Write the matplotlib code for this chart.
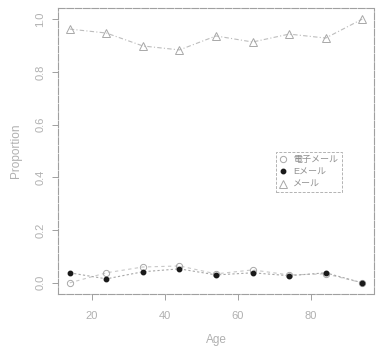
import matplotlib
matplotlib.use("Agg")
import matplotlib.pyplot as plt

plt.rcParams['font.family'] = ['Liberation Sans', 'Noto Sans CJK JP', 'DejaVu Sans']

# data
age = [14, 24, 34, 44, 54, 64, 74, 84, 94]
denshi = [0.0, 0.038, 0.060, 0.064, 0.034, 0.049, 0.030, 0.034, 0.0]   # 電子メール
emeru = [0.038, 0.015, 0.042, 0.053, 0.030, 0.038, 0.027, 0.038, 0.0]  # Eメール
meru = [0.962, 0.947, 0.898, 0.883, 0.936, 0.913, 0.943, 0.928, 1.0]   # メール
labels = ['電子メール', 'Eメール', 'メール']
xticks = [20, 40, 60, 80]
yticks = [0.0, 0.2, 0.4, 0.6, 0.8, 1.0]

txt = '#b0b0b0'
frame = '#a0a0a0'

fig = plt.figure(figsize=(3.77, 3.47), dpi=100)
ax = fig.add_axes([0.154, 0.153, 0.838, 0.824])

# the three series
ax.plot(age, denshi, linestyle=(0, (3, 3)), color='#c8c8c8', lw=0.8,
        marker='o', mfc='none', mec='#a8a8a8', ms=4.5, mew=0.7, label=labels[0])
ax.plot(age, emeru, linestyle=(0, (2, 2)), color='#a8a8a8', lw=0.8,
        marker='o', mfc='#1a1a1a', mec='#1a1a1a', ms=3.2, label=labels[1])
ax.plot(age, meru, linestyle=(0, (4, 2, 1, 2)), color='#bdbdbd', lw=0.8,
        marker='^', mfc='none', mec='#a8a8a8', ms=6, mew=0.7, label=labels[2])

ax.set_xlim(10.8, 97.2)
ax.set_ylim(-0.042, 1.042)
ax.set_xticks(xticks)
ax.set_xticklabels([str(v) for v in xticks])
ax.set_yticks(yticks)
ax.set_yticklabels(['%.1f' % v for v in yticks], rotation=90, va='center')

for s in ax.spines.values():
    s.set_color(frame)
    s.set_linewidth(0.8)
    s.set_linestyle((0, (6, 1.5)))

ax.tick_params(direction='out', length=4, width=0.7, color=frame,
               labelcolor=txt, labelsize=8)
ax.tick_params(axis='x', pad=8)
ax.tick_params(axis='y', pad=5)

ax.set_xlabel('Age', color=txt, fontsize=8.5, labelpad=10)
ax.set_ylabel('Proportion', color=txt, fontsize=8.5, labelpad=10)

leg = ax.legend(loc='upper left', bbox_to_anchor=(0.69, 0.497), fontsize=6.5,
                frameon=True, fancybox=False, handlelength=0.8,
                handletextpad=0.7, borderpad=0.4, labelspacing=0.35,
                borderaxespad=0)
leg.get_frame().set_edgecolor(frame)
leg.get_frame().set_linestyle((0, (3, 1.5)))
leg.get_frame().set_linewidth(0.7)
for h in leg.get_lines():
    h.set_linestyle('none')
for t in leg.get_texts():
    t.set_color('#909090')

fig.savefig('out.png', dpi=100)
